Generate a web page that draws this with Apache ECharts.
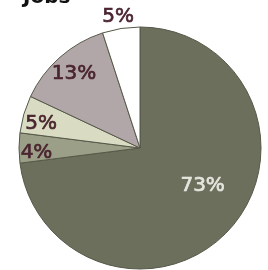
<!DOCTYPE html>
<html><head><meta charset="utf-8">
<script src="https://cdn.jsdelivr.net/npm/echarts@6/dist/echarts.min.js"></script>
<style>html,body{margin:0;padding:0;background:#fff}#c{width:268px;height:270px}</style>
</head><body><div id="c"></div>
<script>
const categories = ['A', 'B', 'C', 'D', 'E'];
const values = [73, 4, 5, 13, 5];
const sliceColors = ['#6b6f5c', '#9c9f87', '#d9dcc3', '#b2a7a8', '#ffffff'];
const labelColors = ['#e6e6df', '#4a2530', '#4a2530', '#4a2530', '#4a2530'];
const labelShift = [[15, -4], [-40, 5], [-38, -6], [-24, -27], [-12, -68]];

const chart = echarts.init(document.getElementById('c'), null, {renderer: 'canvas'});
chart.setOption({
  animation: false,
  title: {
    text: 'Jobs', left: 18, top: -17,
    textStyle: {fontFamily: 'DejaVu Sans', fontWeight: 'bold', fontSize: 20, color: '#111'}
  },
  series: [{
    type: 'pie',
    center: [140, 148],
    radius: 121,
    startAngle: 90,
    clockwise: true,
    avoidLabelOverlap: false,
    itemStyle: {borderColor: '#555848', borderWidth: 1},
    label: {
      show: true, position: 'inside',
      formatter: p => p.value + '%',
      fontFamily: 'DejaVu Sans', fontSize: 20
    },
    labelLine: {show: false},
    emphasis: {disabled: true},
    data: categories.map((c, i) => ({
      name: c, value: values[i],
      itemStyle: {color: sliceColors[i]},
      label: {color: labelColors[i], textBorderColor: labelColors[i], textBorderWidth: 0.7}
    }))
  }]
});
chart.setOption({
  series: [{labelLayout: p => ({dx: labelShift[p.dataIndex][0], dy: labelShift[p.dataIndex][1]})}]
});
</script></body></html>
